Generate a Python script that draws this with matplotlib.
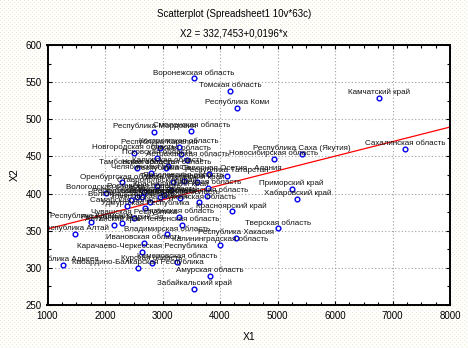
import numpy as np
import matplotlib
matplotlib.use('Agg')
import matplotlib.pyplot as plt
from matplotlib.ticker import MultipleLocator
from matplotlib.transforms import offset_copy

plt.rcParams['font.family'] = ['Liberation Sans', 'DejaVu Sans']

#%% Data

regions = ['Воронежская область', 'Томская область', 'Республика Коми', 'Камчатский край',
           'Сахалинская область', 'Республика Саха (Якутия)', 'Новосибирская область',
           'Приморский край', 'Хабаровский край', 'Тверская область', 'Красноярский край',
           'Калининградская область', 'Республика Хакасия', 'Амурская область',
           'Забайкальский край', 'Республика Мордовия', 'Смоленская область',
           'Республика Карелия', 'Костромская область', 'Новгородская область',
           'Астраханская область', 'Псковская область', 'Калужская область',
           'Тамбовская область', 'Оренбургская область', 'Вологодская область',
           'Республика Башкортостан', 'Республика Северная Осетия - Алания',
           'Удмуртская Республика', 'Рязанская область', 'Республика Алтай',
           'Владимирская область', 'Ивановская область',
           'Карачаево-Черкесская Республика', 'Курская область', 'Кемеровская область',
           'Республика Адыгея', 'Кабардино-Балкарская Республика', 'Республика Калмыкия',
           'Алтайский край', 'Республика Марий Эл', 'Чувашская Республика',
           'Пензенская область', 'Ульяновская область', 'Кировская область',
           'Брянская область', 'Орловская область', 'Саратовская область',
           'Курганская область', 'Ярославская область', 'Тульская область',
           'Липецкая область', 'Белгородская область', 'Республика Татарстан',
           'Челябинская область', 'Нижегородская область', 'Ростовская область',
           'Омская область', 'Волгоградская область', 'Ставропольский край',
           'Краснодарский край', 'Пермский край', 'Самарская область']

x1 = [3540, 4180, 4290, 6770, 7215, 5420, 4940, 5245, 5345, 5005, 4205,
      4005, 4275, 3820, 3555, 2860, 3500, 2950, 3280, 2496, 3430, 2904,
      3100, 2555, 2293, 2010, 2640, 3805, 2700, 3280, 1479, 3078, 2670,
      2640, 2816, 3252, 1265, 2572, 1753, 2148, 2304, 2496, 3339, 2775,
      2961, 3019, 2555, 3310, 3641, 3368, 3177, 3793, 3775, 4124, 2804,
      3066, 2671, 3322, 2450, 2900, 3150, 3600, 2380]

x2 = [555, 538, 515, 529, 460, 453, 447, 406, 393, 353, 376,
      331, 340, 289, 272, 483, 484, 462, 463, 455, 445, 448,
      437, 434, 415, 401, 396, 426, 380, 369, 346, 345, 333,
      322, 306, 308, 304, 300, 362, 358, 361, 367, 358, 389,
      396, 398, 396, 394, 388, 417, 416, 408, 397, 424, 428,
      435, 402, 453, 392, 410, 405, 415, 383]

intercept = 332.7453
slope = 0.0196

#%% Figure

fig = plt.figure(figsize=(4.68, 3.48), dpi=100)
fig.patch.set_facecolor('white')

# dotted yellow background like the original window
h, w = 348, 468
bg = np.ones((h, w, 3))
yy, xx = np.mgrid[0:h, 0:w]
dots = ((yy % 4 == 0) & (xx % 4 == 0)) | ((yy % 4 == 2) & (xx % 4 == 2))
bg[dots] = np.array([0xf2, 0xea, 0xc4]) / 255.0
fig.figimage(bg, xo=0, yo=0, zorder=-10)

ax = fig.add_axes([47.5 / 468, 1 - 305 / 348, 402.5 / 468, 260 / 348])
ax.set_facecolor('white')

ax.set_xlim(1000, 8000)
ax.set_ylim(250, 600)

ax.grid(True, which='major', color='#a0a0a0', linestyle=(0, (1, 2)), linewidth=0.8)
ax.set_axisbelow(True)

xs = np.array([1000, 8000])
ax.plot(xs, intercept + slope * xs, color='red', linewidth=0.9, zorder=2)

ax.plot(x1, x2, linestyle='none', marker='o', markersize=3.4, markerfacecolor='white',
        markeredgecolor='#0000ee', markeredgewidth=1.0, zorder=3)

lbl_tr = offset_copy(ax.transData, fig=fig, x=0, y=2.8, units='points')
for name, a, b in zip(regions, x1, x2):
    ax.text(a, b, name, transform=lbl_tr, ha='center', va='baseline',
            fontsize=5.8, color='#111111', clip_on=True, zorder=4)

ax.xaxis.set_major_locator(MultipleLocator(1000))
ax.xaxis.set_minor_locator(MultipleLocator(250))
ax.yaxis.set_major_locator(MultipleLocator(50))
ax.yaxis.set_minor_locator(MultipleLocator(25))
ax.tick_params(which='both', direction='in', top=True, right=True, colors='black',
               labelsize=7)
ax.tick_params(which='major', length=3, width=0.8)
ax.tick_params(which='minor', length=2, width=0.8)
ax.tick_params(axis='x', pad=4.5)
ax.tick_params(axis='y', pad=4)

for s in ax.spines.values():
    s.set_linewidth(1.4)
    s.set_color('black')

ax.set_xlabel('X1', fontsize=7.5, labelpad=8)
ax.set_ylabel('X2', fontsize=7.5, labelpad=4)

fig.text(0.5, 1 - 14 / 348, 'Scatterplot (Spreadsheet1 10v*63c)', ha='center', va='center',
         fontsize=7)
fig.text(0.5, 1 - 33 / 348, 'X2 = 332,7453+0,0196*x', ha='center', va='center', fontsize=7)

fig.savefig('out.png', dpi=100)
